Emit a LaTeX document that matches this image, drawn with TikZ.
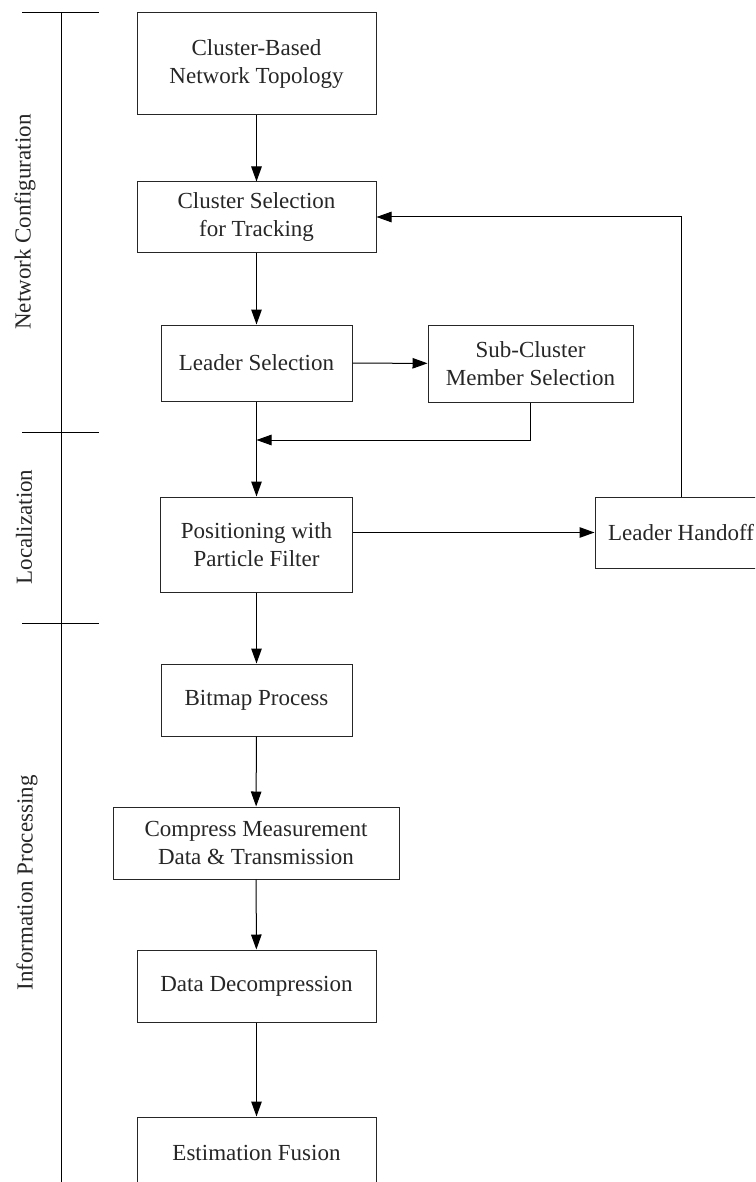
\documentclass[tikz,border=0pt]{standalone}
\usepackage{fontspec}
\setmainfont{Liberation Serif}
\usetikzlibrary{arrows.meta,positioning,calc}

\begin{document}
\begin{tikzpicture}[x=1pt,y=-1pt,
  font=\fontsize{23}{28}\selectfont,
  >={Triangle[length=15pt,width=10.5pt]},
  line width=1pt,
  box/.style={shape=rectangle,draw=black!85,text=black!85,align=center,inner sep=0pt},
  phase/.style={rotate=90,text=black!85}]
\clip (0,0) rectangle (755,1182);
% phase bar on the left
\draw (61,13) -- (61,1182);
\foreach \y in {13,432,623} \draw (22,\y) -- (99,\y);
\node[phase](NC) at (25,222) {Network Configuration};
\node[phase](LO) at (24,527) {Localization};
\node[phase](IP) at (27,883) {Information Processing};
% blocks
\node[box,minimum width=239,minimum height=102](T) at (256.5,64) {Cluster-Based\\Network Topology};
\node[box,minimum width=239,minimum height=70](CS) at (256.5,217) {Cluster Selection\\for Tracking};
\node[box,minimum width=191,minimum height=76](LS) at (256.5,363) {Leader Selection};
\node[box,minimum width=205,minimum height=77](SC) at (530.5,363.5) {Sub-Cluster\\Member Selection};
\node[box,minimum width=192,minimum height=95](PF) at (256.5,544.5) {Positioning with\\Particle Filter};
\node[box,minimum width=172,minimum height=71](LH) at (681,532.5) {Leader Handoff};
\node[box,minimum width=191,minimum height=72](BP) at (256.5,700) {Bitmap Process};
\node[box,minimum width=286,minimum height=72](CM) at (256,843) {Compress Measurement\\Data \& Transmission};
\node[box,minimum width=239,minimum height=72](DD) at (256.5,986) {Data Decompression};
\node[box,minimum width=239,minimum height=72](EF) at (256.5,1153) {Estimation Fusion};
\coordinate (M) at (256.5,440);
% connectors
\draw[->] (T) -- (CS);
\draw[->] (CS) -- (LS);
\draw[->] (LS) -- (SC);
\draw[->] (SC.south) |- (M);
\draw[->] (LS) -- (PF);
\draw[->] (PF.east |- LH.west) -- (LH.west);
\draw[->] (LH.north) |- (CS.east);
\draw[->] (PF) -- (BP);
\draw[->] (BP) -- (CM);
\draw[->] (CM) -- (DD);
\draw[->] (DD) -- (EF);
\end{tikzpicture}
\end{document}
